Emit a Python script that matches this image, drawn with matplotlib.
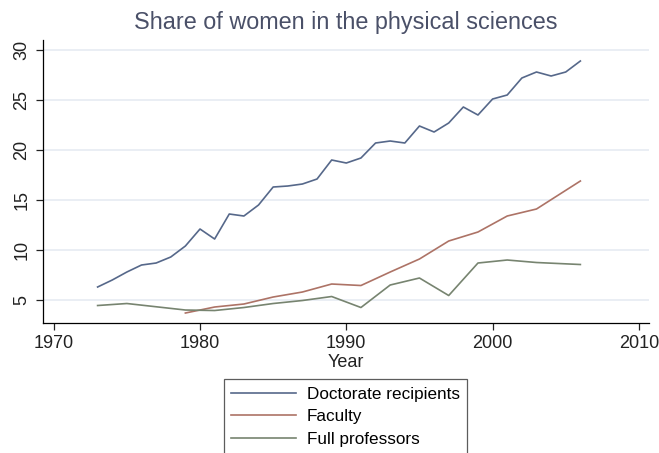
import matplotlib
matplotlib.use("Agg")
import matplotlib.pyplot as plt

plt.rcParams['font.family'] = ['Liberation Sans', 'DejaVu Sans']

# Doctorate recipients (yearly)
doc_years = list(range(1973, 2007))
doc_share = [6.3, 7.0, 7.8, 8.5, 8.7, 9.3, 10.4, 12.1, 11.1, 13.6, 13.4, 14.5,
             16.3, 16.4, 16.6, 17.1, 19.0, 18.7, 19.2, 20.7, 20.9, 20.7, 22.4,
             21.8, 22.7, 24.3, 23.5, 25.1, 25.5, 27.2, 27.8, 27.4, 27.8, 28.9]

# Faculty (biennial)
fac_years = [1979, 1981, 1983, 1985, 1987, 1989, 1991, 1993, 1995, 1997, 1999, 2001, 2003, 2006]
fac_share = [3.7, 4.3, 4.6, 5.3, 5.8, 6.6, 6.45, 7.8, 9.1, 10.9, 11.8, 13.4, 14.1, 16.9]

# Full professors
prof_years = [1973, 1975, 1979, 1981, 1983, 1985, 1987, 1989, 1991, 1993, 1995, 1997, 1999, 2001, 2003, 2006]
prof_share = [4.45, 4.65, 4.0, 3.95, 4.25, 4.65, 4.95, 5.35, 4.25, 6.5, 7.2, 5.45, 8.7, 9.0, 8.75, 8.55]

fig = plt.figure(figsize=(6.59, 4.53), dpi=100)
ax = fig.add_axes([0.0653, 0.2876, 0.9195, 0.6241])

ax.plot(doc_years, doc_share, color='#56688a', lw=1.2, label='Doctorate recipients')
ax.plot(fac_years, fac_share, color='#ad7366', lw=1.2, label='Faculty')
ax.plot(prof_years, prof_share, color='#778470', lw=1.2, label='Full professors')

ax.set_xlim(1969.27, 2010.69)
ax.set_ylim(2.73, 31.0)
ax.set_xticks([1970, 1980, 1990, 2000, 2010])
ax.set_yticks([5, 10, 15, 20, 25, 30])
ax.grid(axis='y', color='#e6ebf2', lw=1.2)
ax.set_axisbelow(True)
for s in ['top', 'right']:
    ax.spines[s].set_visible(False)
ax.spines['left'].set_linewidth(0.9)
ax.spines['bottom'].set_linewidth(0.9)
ax.tick_params(axis='both', labelsize=13, length=5, width=0.9, pad=4, colors='#222222')
plt.setp(ax.get_yticklabels(), rotation=90, va='center')

ax.set_xlabel('Year', fontsize=13, labelpad=1, color='#222222')
ax.set_title('Share of women in the physical sciences', fontsize=16.8, color='#4a5068', pad=8)

leg = fig.legend(loc='upper center', bbox_to_anchor=(345.5 / 659, 1 - 379 / 453),
                 fontsize=12.3, frameon=True, fancybox=False, edgecolor='#333333',
                 handlelength=3.8, handletextpad=0.6, labelspacing=0.45,
                 borderpad=0.45, borderaxespad=0)
leg.get_frame().set_linewidth(0.9)

fig.savefig('out.png', dpi=100)
